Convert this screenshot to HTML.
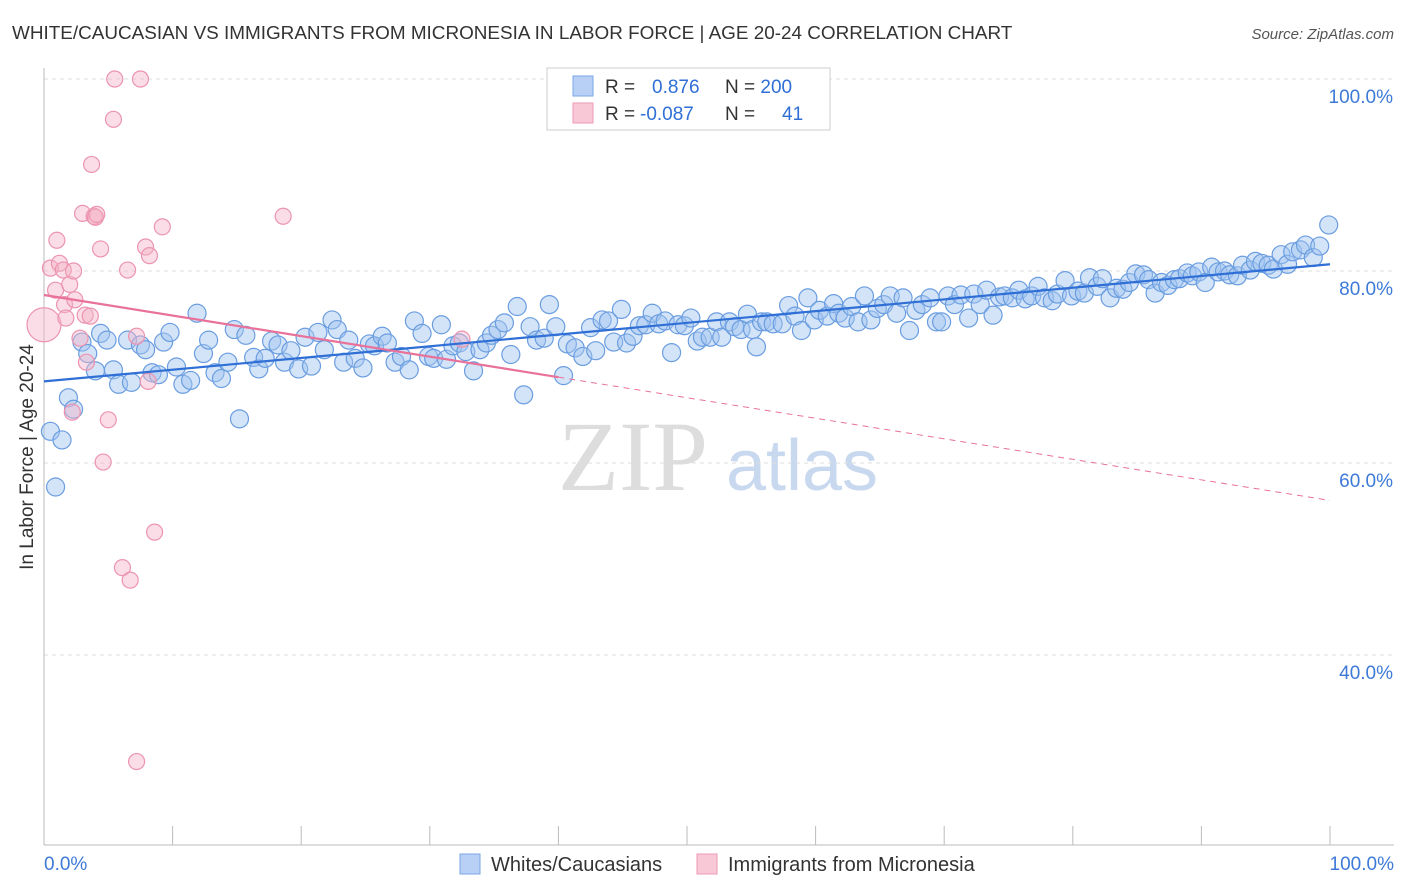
<!DOCTYPE html>
<html><head><meta charset="utf-8"><style>
body{margin:0;background:#fff;font-family:"Liberation Sans",sans-serif;}
svg{display:block}
</style></head><body>
<svg id="c" width="1406" height="892" xmlns="http://www.w3.org/2000/svg">
<text x="12" y="39" font-size="18.9" fill="#333">WHITE/CAUCASIAN VS IMMIGRANTS FROM MICRONESIA IN LABOR FORCE | AGE 20-24 CORRELATION CHART</text>
<text x="1394" y="39" font-size="15" fill="#555" font-style="italic" text-anchor="end">Source: ZipAtlas.com</text>
<text x="0" y="0" transform="translate(33,457) rotate(-90)" font-size="19" fill="#333" text-anchor="middle">In Labor Force | Age 20-24</text>
<g><text x="633" y="490" font-size="100" fill="#ddd" font-family="Liberation Serif,serif" text-anchor="middle">ZIP</text><text x="802" y="490" font-size="72" fill="#c8d8ee" text-anchor="middle">atlas</text></g>
<g id="grid"></g><g id="axes"></g><g id="pts"></g><g id="lines"></g>
<g>
<rect x="547" y="68" width="283" height="62" fill="#fff" stroke="#ccc"/>
<rect x="573" y="76" width="20" height="20" fill="#b8d0f5" stroke="#7aa6e6"/>
<rect x="573" y="103" width="20" height="20" fill="#f8c8d6" stroke="#ee9ab4"/>
<text x="605" y="93" font-size="19" fill="#333">R = <tspan fill="#2f6fd6" x="652">0.876</tspan><tspan x="725">N = </tspan><tspan fill="#2f6fd6">200</tspan></text>
<text x="605" y="120" font-size="19" fill="#333">R = <tspan fill="#2f6fd6" x="640">-0.087</tspan><tspan x="725">N = </tspan><tspan fill="#2f6fd6" x="782">41</tspan></text>
</g>
<g>
<rect x="460" y="854" width="20" height="20" fill="#b8d0f5" stroke="#7aa6e6"/>
<text x="491" y="871" font-size="20" fill="#333">Whites/Caucasians</text>
<rect x="697" y="854" width="20" height="20" fill="#f8c8d6" stroke="#ee9ab4"/>
<text x="728" y="871" font-size="20" fill="#333">Immigrants from Micronesia</text>
</g>
</svg>
<script>
const blueX=[0.5,1.4,0.9,1.9,2.3,2.95,3.4,4.0,4.4,4.9,5.4,5.8,6.5,6.8,7.5,7.9,8.4,8.9,9.3,9.8,10.3,10.8,11.4,11.9,12.4,12.8,13.3,13.8,14.3,14.8,15.2,15.7,16.3,16.7,17.2,17.7,18.2,18.7,19.2,19.8,20.3,20.8,21.3,21.8,22.4,22.8,23.3,23.7,24.2,24.8,25.3,25.7,26.3,26.7,27.3,27.8,28.4,28.8,29.4,29.9,30.3,30.9,31.3,31.8,32.3,32.8,33.4,33.9,34.4,34.8,35.3,35.8,36.3,36.8,37.3,37.8,38.3,38.9,39.3,39.8,40.4,40.7,41.3,41.9,42.5,42.9,43.4,43.9,44.3,44.9,45.3,45.8,46.3,46.8,47.3,47.8,48.3,48.8,49.3,49.8,50.3,50.8,51.2,51.8,52.3,52.7,53.3,53.7,54.2,54.7,55.1,55.4,55.8,56.2,56.7,57.4,57.9,58.4,58.9,59.4,59.9,60.3,60.9,61.4,61.8,62.3,62.8,63.3,63.8,64.3,64.8,65.3,65.8,66.3,66.8,67.3,67.8,68.3,68.9,69.4,69.8,70.3,70.8,71.3,71.9,72.3,72.8,73.3,73.8,74.3,74.7,75.3,75.8,76.3,76.8,77.3,77.8,78.4,78.8,79.4,79.9,80.4,80.9,81.3,81.9,82.3,82.9,83.4,83.9,84.4,84.9,85.5,85.9,86.4,86.9,87.4,87.9,88.3,88.9,89.3,89.8,90.3,90.8,91.3,91.8,92.2,92.8,93.2,93.8,94.2,94.7,95.2,95.6,96.2,96.7,97.1,97.7,98.1,98.7,99.2,99.9];
const blueY=[63.3,62.4,57.5,66.8,65.6,72.6,71.4,69.6,73.5,72.8,69.7,68.2,72.8,68.4,72.3,71.8,69.4,69.2,72.6,73.6,70.0,68.2,68.6,75.6,71.4,72.8,69.4,68.8,70.5,73.9,64.6,73.3,71.0,69.8,70.9,72.7,72.3,70.5,71.7,69.8,73.1,70.1,73.6,71.8,74.9,73.9,70.5,72.8,70.9,69.9,72.4,72.2,73.2,72.5,70.5,71.1,69.7,74.8,73.5,71.1,70.9,74.4,70.8,72.2,72.5,71.6,69.6,71.8,72.5,73.3,73.9,74.6,71.3,76.3,67.1,74.2,72.8,73.0,76.5,74.2,69.1,72.4,72.0,71.1,74.1,71.7,74.9,74.8,72.6,76.0,72.5,73.2,74.3,74.4,75.6,74.5,74.8,71.5,74.4,74.3,75.1,72.7,73.1,73.1,74.7,73.1,74.7,74.2,73.9,75.5,73.9,72.1,74.7,74.7,74.5,74.5,76.4,75.3,73.8,77.2,74.9,75.9,75.3,76.6,75.6,75.1,76.3,74.7,77.4,74.9,76.1,76.5,77.4,75.6,77.2,73.8,75.9,76.5,77.2,74.7,74.7,77.4,76.5,77.5,75.1,77.6,76.5,78.0,75.4,77.3,77.4,77.2,78.0,77.1,77.4,78.4,77.2,76.9,77.6,79.0,77.4,77.9,77.7,79.3,78.4,79.2,77.2,78.2,78.1,78.8,79.7,79.6,79.1,77.7,78.8,78.5,79.1,79.2,79.8,79.5,79.9,78.8,80.4,79.9,80.0,79.6,79.5,80.6,80.1,81.0,80.8,80.6,80.2,81.7,80.7,82.0,82.2,82.7,81.4,82.6,84.8];
const pinkX=[0,0.5,0.9,1.0,1.2,1.5,1.6,1.7,2.0,2.3,2.4,2.2,2.8,3.0,3.2,3.3,3.6,3.9,4.0,4.1,4.4,4.6,5.0,5.4,5.5,3.7,6.5,6.1,6.7,7.2,7.5,7.2,7.9,8.2,8.1,8.6,9.2,18.6,32.5];
const pinkY=[74.4,80.3,78.0,83.2,80.8,80.1,76.5,75.1,78.6,80.0,77.0,65.3,73.0,86.0,75.4,70.5,75.3,85.7,85.6,85.9,82.3,60.1,64.5,95.8,100,91.1,80.1,49.1,47.8,28.9,100,73.2,82.5,81.6,68.5,52.8,84.6,85.7,72.9];
const blueTrend=[68.5,80.7];
const pinkTrend=[77.5,56.1];
const pinkSolidEnd=40;
const yTicks=[100,80,60,40];
const xTicks=[0,10,20,30,40,50,60,70,80,90,100];
const NS="http://www.w3.org/2000/svg";
const X=v=>44+v*12.86, Y=v=>1039-v*9.6;
function mk(t,a,p){const e=document.createElementNS(NS,t);for(const k in a)e.setAttribute(k,a[k]);document.getElementById(p).appendChild(e);return e;}
yTicks.forEach(t=>{
 const l=mk('line',{x1:44,x2:1394,y1:Y(t),y2:Y(t),stroke:'#ddd','stroke-dasharray':'4,4'},'grid');
 
 
 const tx=mk('text',{x:1393,y:Y(t)+24,'font-size':19,fill:'#3d7ad8','text-anchor':'end'},'grid');
 tx.textContent=t.toFixed(1)+'%';
 
 
});
const ax=mk('line',{x1:44,x2:1394,y1:845,y2:845,stroke:'#bbb'},'axes');


const ay=mk('line',{x1:44,x2:44,y1:68,y2:845,stroke:'#bbb'},'axes');


xTicks.forEach(t=>{
 const l=mk('line',{x1:X(t),x2:X(t),y1:826,y2:845,stroke:'#bbb'},'axes');
 
 
});
[[0,'0.0%','start',44],[100,'100.0%','end',1394]].forEach(a=>{
 const tx=mk('text',{x:a[3],y:870,'font-size':19,fill:'#3d7ad8','text-anchor':a[2]},'axes');
 tx.textContent=a[1];
 
 
});
blueX.forEach((x,i)=>{
 const c=mk('circle',{cx:X(x),cy:Y(blueY[i]),r:9,fill:'rgba(160,195,240,0.45)',stroke:'#6a9de0','stroke-width':1.2},'pts');
 
 
});
pinkX.forEach((x,i)=>{
 const c=mk('circle',{cx:X(x),cy:Y(pinkY[i]),r:i===0?17:8,fill:'rgba(245,180,200,0.45)',stroke:'#ec94b0','stroke-width':1.2},'pts');
 
 
});
const bl=mk('line',{x1:X(0),y1:Y(blueTrend[0]),x2:X(100),y2:Y(blueTrend[1]),stroke:'#2f6fd6','stroke-width':2.2},'lines');


const py=v=>pinkTrend[0]+(pinkTrend[1]-pinkTrend[0])*v/100;
const pl=mk('line',{x1:X(0),y1:Y(py(0)),x2:X(pinkSolidEnd),y2:Y(py(pinkSolidEnd)),stroke:'#e8729a','stroke-width':2.2},'lines');


const pd=mk('line',{x1:X(pinkSolidEnd),y1:Y(py(pinkSolidEnd)),x2:X(100),y2:Y(py(100)),stroke:'#e8729a','stroke-width':1,'stroke-dasharray':'6,5'},'lines');


</script>
</body></html>
